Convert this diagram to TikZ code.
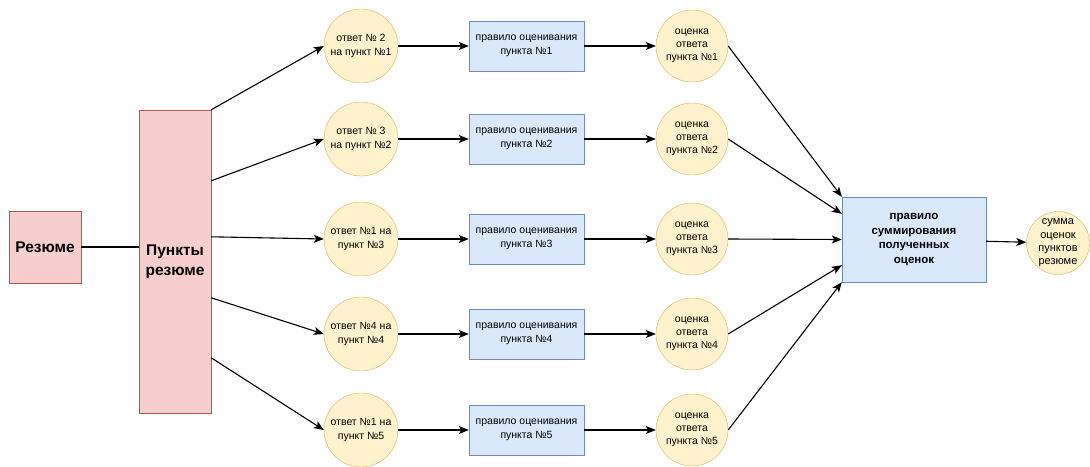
\documentclass[tikz,border=0pt]{standalone}
\usepackage{fontspec}
\setmainfont{Liberation Sans}
\usepackage{tikz}
\usetikzlibrary{arrows.meta}
\definecolor{pinkFill}{HTML}{F8CECC}
\definecolor{pinkLine}{HTML}{B85450}
\definecolor{blueFill}{HTML}{DAE8FC}
\definecolor{blueLine}{HTML}{6C8EBF}
\definecolor{yellowFill}{HTML}{FFF2CC}
\definecolor{yellowLine}{HTML}{D6B656}

\begin{document}
\begin{tikzpicture}[x=1pt,y=-1pt]

          \tikzstyle{rezNode} = [draw=pinkLine, fill=pinkFill, inner sep=0pt, align=center, font=\bfseries\fontsize{15.5}{20}\selectfont];
          \tikzstyle{answerNode} = [circle, draw=yellowLine, fill=yellowFill, minimum size=74pt, inner sep=0pt, align=center, font=\fontsize{10.5}{14}\selectfont];
          \tikzstyle{scoreNode} = [answerNode, minimum size=72pt, font=\fontsize{10.5}{13}\selectfont];
          \tikzstyle{ruleNode} = [draw=blueLine, fill=blueFill, minimum width=115pt, minimum height=50pt, inner sep=0pt, align=center, font=\fontsize{10.5}{14}\selectfont];

          \tikzstyle{plainEdge} = [line width=1.1pt];
          \tikzstyle{arrowEdge} = [line width=1.1pt, -{Stealth[length=10pt,width=8pt,inset=2.5pt]}];

          \useasboundingbox (0,0) rectangle (1090,466);

          \node[rezNode, minimum width=72pt, minimum height=72pt] (rez) at (45,247) {Резюме};
          \node[rezNode, minimum width=72pt, minimum height=303pt] (punkty) at (175,261.5) {Пункты\\резюме};

          \node[answerNode] (ans1) at (361,46) {ответ № 2\\на пункт №1};
          \node[answerNode] (ans2) at (361,139) {ответ № 3\\на пункт №2};
          \node[answerNode] (ans3) at (361,239) {ответ №1 на\\пункт №3};
          \node[answerNode] (ans4) at (361,334) {ответ №4 на\\пункт №4};
          \node[answerNode] (ans5) at (361,430) {ответ №1 на\\пункт №5};

          \node[ruleNode] (rule1) at (526.5,46) {правило оценивания\\пункта №1};
          \node[ruleNode] (rule2) at (526.5,139) {правило оценивания\\пункта №2};
          \node[ruleNode] (rule3) at (526.5,239) {правило оценивания\\пункта №3};
          \node[ruleNode] (rule4) at (526.5,334) {правило оценивания\\пункта №4};
          \node[ruleNode] (rule5) at (526.5,430) {правило оценивания\\пункта №5};

          \node[scoreNode] (score1) at (692,46) {оценка\\ответа\\пункта №1};
          \node[scoreNode] (score2) at (692,139) {оценка\\ответа\\пункта №2};
          \node[scoreNode] (score3) at (692,239) {оценка\\ответа\\пункта №3};
          \node[scoreNode] (score4) at (692,334) {оценка\\ответа\\пункта №4};
          \node[scoreNode] (score5) at (692,430) {оценка\\ответа\\пункта №5};

          \node[ruleNode, minimum width=144pt, minimum height=85pt, font=\bfseries\fontsize{11.5}{14.5}\selectfont] (sumRule) at (914,239.5) {правило\\суммирования\\полученных\\оценок};
          \node[scoreNode, minimum size=63pt, font=\fontsize{11}{13.3}\selectfont] (total) at (1058,243) {сумма\\оценок\\пунктов\\резюме};

          % exit points on the right side of the list
          \coordinate (p1) at (punkty.north east);
          \coordinate (p2) at ([yshift=-71pt]punkty.north east);
          \coordinate (p3) at ([yshift=-127pt]punkty.north east);
          \coordinate (p4) at ([yshift=-188pt]punkty.north east);
          \coordinate (p5) at ([yshift=-248pt]punkty.north east);

          % entry points on the left side of the sum rule
          \coordinate (s1) at (sumRule.north west);
          \coordinate (s2) at ([yshift=-17pt]sumRule.north west);
          \coordinate (s3) at (sumRule.west);
          \coordinate (s4) at ([yshift=17pt]sumRule.south west);
          \coordinate (s5) at (sumRule.south west);

          \draw[plainEdge] (rez.east) -- (rez.east -| punkty.west);

          \draw[arrowEdge] (p1) -- (ans1.west);
          \draw[arrowEdge] (p2) -- (ans2.west);
          \draw[arrowEdge] (p3) -- (ans3.west);
          \draw[arrowEdge] (p4) -- (ans4.west);
          \draw[arrowEdge] (p5) -- (ans5.west);

          \draw[arrowEdge] (ans1) -- (rule1);
          \draw[arrowEdge] (ans2) -- (rule2);
          \draw[arrowEdge] (ans3) -- (rule3);
          \draw[arrowEdge] (ans4) -- (rule4);
          \draw[arrowEdge] (ans5) -- (rule5);

          \draw[arrowEdge] (rule1) -- (score1);
          \draw[arrowEdge] (rule2) -- (score2);
          \draw[arrowEdge] (rule3) -- (score3);
          \draw[arrowEdge] (rule4) -- (score4);
          \draw[arrowEdge] (rule5) -- (score5);

          \draw[arrowEdge] (score1.east) -- (s1);
          \draw[arrowEdge] (score2.east) -- (s2);
          \draw[arrowEdge] (score3.east) -- (s3);
          \draw[arrowEdge] (score4.east) -- (s4);
          \draw[arrowEdge] (score5.east) -- (s5);

          \draw[arrowEdge] (sumRule) -- (total);
        \end{tikzpicture}
\end{document}
